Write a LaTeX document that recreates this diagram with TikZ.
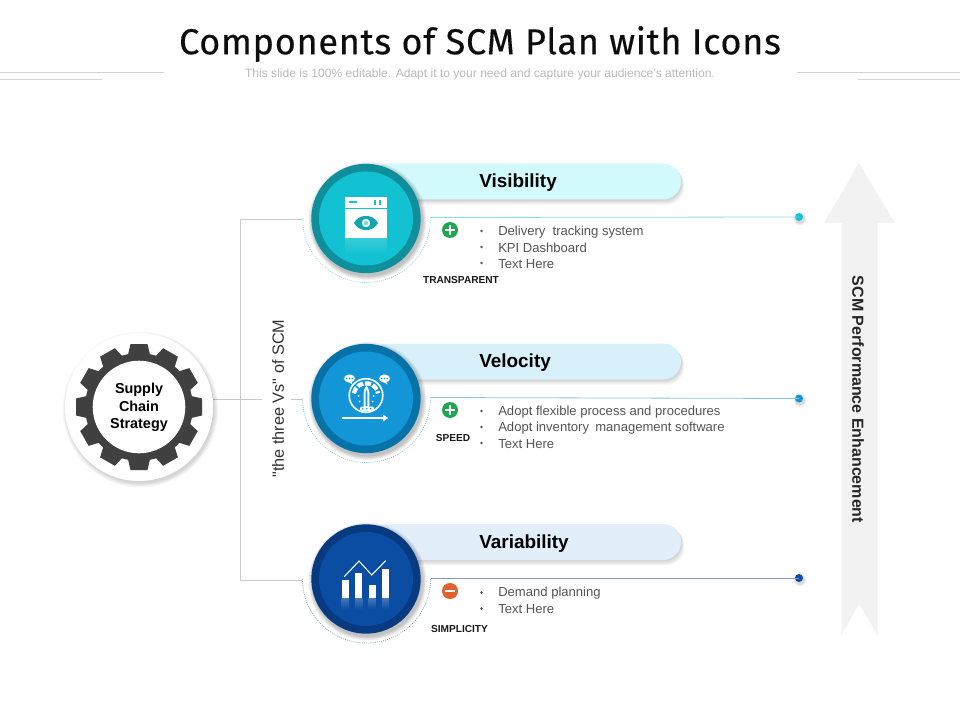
\documentclass[tikz,border=0pt]{standalone}
\usepackage{fontspec}
\setmainfont{Liberation Sans}
\newfontfamily\titlefont[LetterSpace=2.1,FakeBold=0.35]{Fira Sans}
\newfontfamily\plainf{Liberation Sans}
\usetikzlibrary{fadings,calc}
\definecolor{txtgray}{HTML}{555555}
\definecolor{linegray}{HTML}{C8C8C8}
\definecolor{arrowgray}{HTML}{F2F2F2}
\definecolor{gearcol}{HTML}{404040}
\definecolor{plusgreen}{HTML}{1DA750}
\definecolor{minusorange}{HTML}{E0622E}
\definecolor{visA}{HTML}{0F8F9C}\definecolor{visB}{HTML}{12C2D2}\definecolor{visC}{HTML}{D2F9FB}\definecolor{visL}{HTML}{8FDCE6}
\definecolor{velA}{HTML}{0672A8}\definecolor{velB}{HTML}{1396D8}\definecolor{velC}{HTML}{D8F0FA}\definecolor{velL}{HTML}{8CC4DE}
\definecolor{varA}{HTML}{073A80}\definecolor{varB}{HTML}{0A4DA2}\definecolor{varC}{HTML}{E2EFFB}\definecolor{varL}{HTML}{7F9DBA}
\tikzset{
  conn/.style={draw=linegray,line width=0.55pt},
  hline/.style={draw=linegray!80,line width=0.6pt},
  head/.style={anchor=west,font=\fontsize{14.2}{16}\selectfont\bfseries,text=black,inner sep=0pt},
  item/.style={anchor=west,font=\fontsize{9.8}{11}\selectfont,text=txtgray,inner sep=0pt},
  tag/.style={font=\fontsize{7.6}{9}\selectfont\bfseries,text=black!90,inner sep=0pt},
  sign/.style={circle,minimum size=12pt,inner sep=0pt,text=white},
  dot/.style={circle,minimum size=6pt,inner sep=0pt},
}
\newcommand{\softdisc}[2]{%
  \foreach \k in {5,4,3,2,1}{\fill[black,opacity=0.05] ($(#1)+(1.5,2.5)$) circle ({#2+\k*0.9});}}
\newcommand{\bannerrow}[6]{%
  \foreach \k in {4,3,2,1}{\fill[black,opacity=0.045,rounded corners=13.5] (370,#2-55+\k*1.0) rectangle (681+\k*0.8,#2-19+\k*1.3);}
  \fill[#5,rounded corners=13.5] (370,#2-55) rectangle (681,#2-19);
  \coordinate (#1L) at (430.5,#2-1);
  \coordinate (#1arcL) at (302.5,#2);
  \draw[#6,line width=0.6pt] (#1L) -- (#1dot.center);
  \draw[#6,line width=0.6pt,densely dotted] (#1arcL) arc[start angle=180,end angle=0,radius=64];
  \softdisc{#1c}{54.5}
  \fill[#3] (#1c) circle (54.7);
  \fill[#4] (#1c) circle (47);
}
\begin{document}
\begin{tikzpicture}[x=0.75pt,y=-0.75pt]
\useasboundingbox (0,0) rectangle (960,720);
\fill[white] (0,0) rectangle (960,720);
% header
\node[font=\titlefont\fontsize{27}{32}\selectfont,text=black!95,inner sep=0pt] (title) at (480,44) {Components of SCM Plan with Icons};
\node[font=\fontsize{9.05}{11}\selectfont,text=black!27,inner sep=0pt] (subtitle) at (480,74.3) {This slide is 100\% editable. Adapt it to your need and capture your audience's attention.};
\draw[hline] (0,72) -- (164,72);
\draw[hline] (0,79) -- (102,79);
\draw[hline] (797,72) -- (960,72);
\draw[hline] (858,79) -- (960,79);
% right arrow
\fill[arrowgray] (859,163) -- (895,223) -- (877.5,223) -- (877.5,635) -- (859,604) -- (841.5,635) -- (841.5,223) -- (824,223) -- cycle;
\node[rotate=-90,font=\fontsize{12}{14}\selectfont\bfseries,text=black!85,inner sep=0pt] (perf) at (858,399.5) {SCM Performance Enhancement};
% anchors
\coordinate (Ac) at (366,218.5);
\coordinate (Bc) at (366,398.5);
\coordinate (Cc) at (366,579);
\coordinate (gear) at (139,407);
\foreach \x/\y in {799/217,799/398.5,799/578}{
  \foreach \k in {3,2,1}{\fill[black,opacity=0.05] (\x+1,\y+2) circle ({4+\k*0.8});}
}
\node[dot,fill=visB] (Adot) at (799,217) {};
\node[dot,fill=velB] (Bdot) at (799,398.5) {};
\node[dot,fill=varB] (Cdot) at (799,578) {};
% connectors left
\coordinate (tree1) at (240.5,219);
\coordinate (tree3) at (240.5,580);
\coordinate (mid0) at (213,399.5);
\coordinate (mid1) at (262,399.5);
\coordinate (mid2) at (291,399.5);
\coordinate (mid3) at (302,399.5);
\coordinate (top3) at (302,219);
\coordinate (bot3) at (302,580);
\draw[conn] (top3) -- (tree1) -- (tree3) -- (bot3);
\draw[conn] (mid0) -- (mid1);
\draw[conn] (mid2) -- (mid3);
\node[rotate=90,font=\plainf\fontsize{12.2}{14}\selectfont,text=black!80,inner sep=0pt] (vs) at (278,398.5) {"the three Vs" of SCM};
% gear
\foreach \k in {7,6,5,4,3,2,1}{\fill[black,opacity=0.022] ($(gear)+(1.5,2.5)$) circle ({73+\k*0.7});}
\fill[white] (gear) circle (74);
\fill[gearcol] (gear) circle (54);
\foreach \a in {0,30,...,330}{
  \fill[gearcol,rotate around={\a:(gear)}] (127.5,357) -- (130.5,344) -- (147.5,344) -- (150.5,357) -- cycle;
}
\fill[white] (gear) circle (46.3);
\node[align=center,font=\fontsize{10.8}{13.1}\selectfont\bfseries,text=black,inner sep=0pt] (sc) at (139,407.5) {Supply\\Chain\\Strategy};
% rows
\bannerrow{A}{218.5}{visA}{visB}{visC}{visL}
\bannerrow{B}{398.5}{velA}{velB}{velC}{velL}
\bannerrow{C}{579}{varA}{varB}{varC}{varL}
% titles
\node[head] (at) at (479,183) {Visibility};
\node[head] (bt) at (479,363) {Velocity};
\node[head] (ct) at (479,544) {Variability};
% bullets
\foreach \y/\t in {231/Delivery\ \ tracking system,247/KPI Dashboard,263/Text Here,411/Adopt flexible process and procedures,427/Adopt inventory\hspace{2pt}\ management software,443/Text Here,592.5/Demand planning,608.5/Text Here}{
  \node[item] at (498,\y+0.7) {\t};
  \fill[txtgray] (481.5,\y) circle (1.4);
}
% tags
\node[tag] (tA) at (461,280.5) {TRANSPARENT};
\node[tag] (tB) at (453,438.5) {SPEED};
\node[tag] (tC) at (459.5,629.5) {SIMPLICITY};
% signs
\node[sign,fill=plusgreen] (sA) at (450,230) {};
\node[sign,fill=plusgreen] (sB) at (450,410) {};
\node[sign,fill=minusorange] (sC) at (450,591) {};
\foreach \n in {sA,sB}{
  \draw[white,line width=1.5pt] ($(\n)+(-5,0)$) -- ($(\n)+(5,0)$);
  \draw[white,line width=1.5pt] ($(\n)+(0,-5)$) -- ($(\n)+(0,5)$);
}
\draw[white,line width=1.3pt] ($(sC)+(-5,0)$) -- ($(sC)+(5,0)$);
% icon A window
\fill[white] (345,197) rectangle (387,208);
\fill[white] (345,209.5) rectangle (387,239);
\fill[visB] (349,201.5) rectangle (357,203.5);
\fill[visB] (374,200) rectangle (376,205);
\fill[visB] (379,200) rectangle (381,205);
\fill[visB!85!black] (354,223) .. controls (359,213.5) and (373,213.5) .. (378,223) .. controls (373,232.5) and (359,232.5) .. (354,223) -- cycle;
\fill[white] (366,223) circle (4.2);
\fill[visB!60!white] (366,223) circle (2.2);
\shade[top color=white!15!visB,bottom color=visB] (345,239) rectangle (387,254);
% icon B gauge
\coordinate (gc) at (366,395.5);
\draw[white,line width=1.2pt] (gc) circle (16.8);
\draw[white,line width=3.2pt,dash pattern=on 4.6pt off 1.4pt] (gc) ++(-170:12.3) arc[start angle=-170,end angle=-10,radius=12.3];
\fill[velB] (gc) circle (9.5);
\fill[white] (363.6,407) -- (363.6,393) .. controls (364.2,389) and (365.2,387) .. (366.5,385.5) .. controls (367.8,387) and (368.8,389) .. (369.4,393) -- (369.4,407) -- cycle;
\fill[velB] (365.6,406) -- (365.6,393) -- (366.5,389.5) -- (367.4,393) -- (367.4,406) -- cycle;
\fill[white,rounded corners=1.5] (360,406.5) rectangle (374,411);
\foreach \x in {362.8,366.7,370.8}{\fill[velB] (\x,408.8) circle (0.9);}
\foreach \x/\y in {358.5/396,359.5/401.5,373.5/396,372.5/401.5}{\fill[white] (\x,\y) circle (1);}
\fill[white] (341.7,417) rectangle (383,419);
\fill[white] (383,414.6) -- (388.2,418) -- (383,421.4) -- cycle;
\foreach \x in {349.5,384.5}{
  \fill[white,rounded corners=3.3] (\x-5.6,374.7) rectangle (\x+5.6,382.3);
  \fill[white] (\x-1,382) -- (\x+2,382) -- (\x+3,384.5) -- cycle;
  \foreach \d in {-2.8,0,2.8}{\fill[velB] (\x+\d,378.5) circle (0.9);}
}
% icon C chart
\fill[white] (341.7,580) rectangle (349,598);
\fill[white] (355,573.3) rectangle (362.3,598);
\fill[white] (368.7,585) rectangle (375.7,598);
\fill[white] (382.3,569.3) rectangle (389,598);
\foreach \xa/\xb/\yb in {341.7/349/598,355/362.3/598,368.7/375.7/598,382.3/389/598}{
  \shade[top color=white!25!varB,bottom color=varB] (\xa,\yb) rectangle (\xb,\yb+11);
}
\draw[white,line width=0.8pt] (344.3,576.7) -- (359,561) -- (371.7,575) -- (385.7,560.7);
\end{tikzpicture}
\end{document}
